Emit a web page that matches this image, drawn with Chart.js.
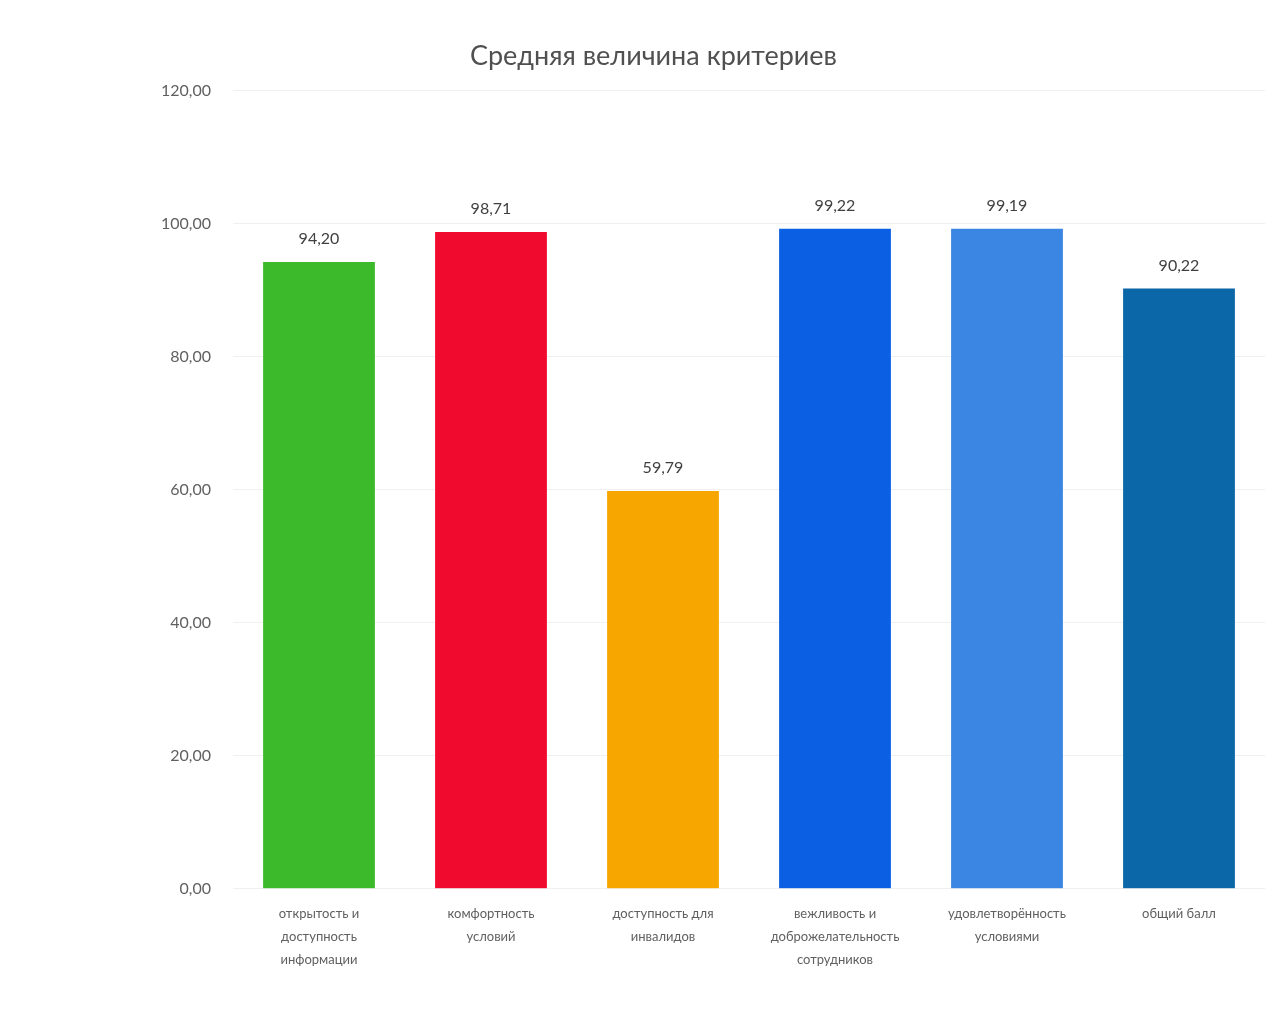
<!DOCTYPE html>
<html>
<head>
<meta charset="utf-8">
<script src="https://cdn.jsdelivr.net/npm/chart.js@4"></script>
<style>
  html, body { margin: 0; padding: 0; background: #fff; }
  #wrap { width: 1284px; height: 1034px; }
</style>
</head>
<body>
<div id="wrap"><canvas id="myChart"></canvas></div>
<script>
const categories = [
  ["открытость и", "доступность", "информации"],
  ["комфортность", "условий"],
  ["доступность для", "инвалидов"],
  ["вежливость и", "доброжелательность", "сотрудников"],
  ["удовлетворённость", "условиями"],
  ["общий балл"]
];
const values = [94.20, 98.71, 59.79, 99.22, 99.19, 90.22];
const barColors = ["#3dba2c", "#f00a2e", "#f7a600", "#0b5fe3", "#3a86e2", "#0b67a8"];

const fmt = (v) => v.toFixed(2).replace(".", ",");

// value labels above bars
const valueLabels = {
  id: "valueLabels",
  afterDatasetsDraw(chart) {
    const ctx = chart.ctx;
    const meta = chart.getDatasetMeta(0);
    ctx.save();
    ctx.font = "16px Lato, 'Open Sans', sans-serif";
    ctx.fillStyle = "#404040";
    ctx.textAlign = "center";
    ctx.textBaseline = "bottom";
    meta.data.forEach((bar, i) => {
      ctx.fillText(fmt(values[i]), bar.x, bar.y - 15);
    });
    ctx.restore();
  }
};

const ctx = document.getElementById("myChart").getContext("2d");
new Chart(ctx, {
  type: "bar",
  data: {
    labels: categories,
    datasets: [{
      data: values,
      backgroundColor: barColors,
      categoryPercentage: 0.65,
      barPercentage: 1.0
    }]
  },
  options: {
    responsive: true,
    maintainAspectRatio: false,
    animation: false,
    layout: { padding: { left: 42, right: 19, top: 40, bottom: 57 } },
    plugins: {
      legend: { display: false },
      tooltip: { enabled: false },
      title: {
        display: true,
        text: "Средняя величина критериев",
        color: "#505050",
        font: { family: "Lato, 'Open Sans', sans-serif", size: 27, weight: "normal" },
        padding: { top: 0, bottom: 18 }
      }
    },
    scales: {
      x: {
        grid: { display: false },
        border: { display: false },
        ticks: {
          color: "#606060",
          font: { family: "Lato, 'Open Sans', sans-serif", size: 13, lineHeight: 1.75 },
          maxRotation: 0,
          autoSkip: false,
          padding: 6
        }
      },
      y: {
        min: 0,
        max: 120,
        afterFit(scale) { scale.width = 191; },
        grid: { color: "#f0f0f0", drawTicks: false },
        border: { display: false },
        ticks: {
          stepSize: 20,
          color: "#606060",
          padding: 22,
          font: { family: "Lato, 'Open Sans', sans-serif", size: 16 },
          callback: (v) => fmt(v)
        }
      }
    }
  },
  plugins: [valueLabels]
});
</script>
</body>
</html>
